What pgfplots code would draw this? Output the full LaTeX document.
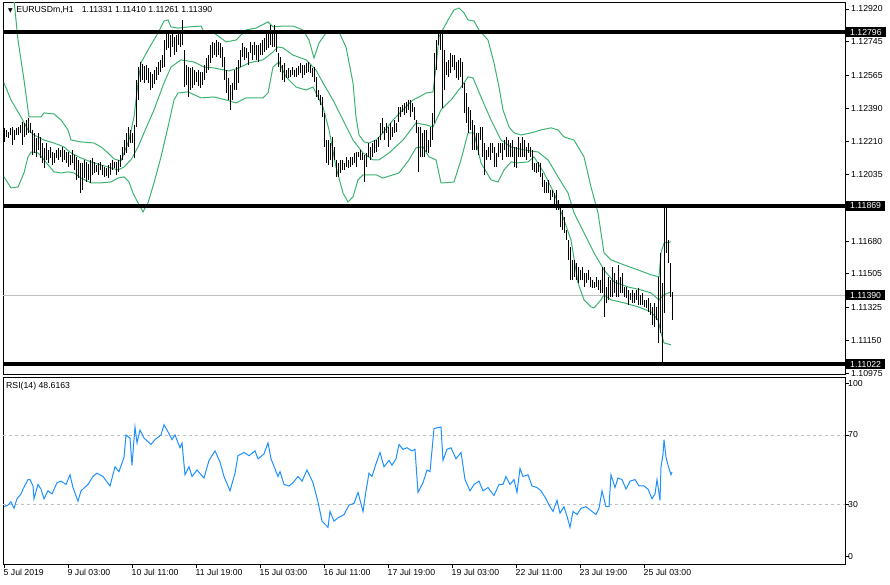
\documentclass[border=0pt]{standalone}
\usepackage{pgfplots}
\pgfplotsset{compat=1.18}
\usepackage{pgfplotstable}
\usepackage{fontspec}
\setmainfont{Liberation Sans}
\newfontfamily\dejavu{DejaVu Sans}
\definecolor{bbgreen}{RGB}{60,179,113}
\definecolor{rsiblue}{RGB}{30,144,255}
\definecolor{silverc}{RGB}{192,192,192}
\newcommand{\lab}{\fontsize{8.7}{10}\selectfont}

\pgfplotstableread{
i hi lo
0 1.12285 1.12210
1 1.12274 1.12236
2 1.12263 1.12231
3 1.12285 1.12247
4 1.12290 1.12194
5 1.12274 1.12220
6 1.12285 1.12247
7 1.12290 1.12247
8 1.12301 1.12258
9 1.12317 1.12194
10 1.12311 1.12236
11 1.12327 1.12247
12 1.12338 1.12258
13 1.12311 1.12258
14 1.12274 1.12140
15 1.12258 1.12151
16 1.12231 1.12130
17 1.12258 1.12167
18 1.12236 1.12124
19 1.12204 1.12098
20 1.12178 1.12071
21 1.12204 1.12114
22 1.12167 1.12098
23 1.12183 1.12124
24 1.12156 1.12087
25 1.12151 1.12098
26 1.12167 1.12124
27 1.12178 1.12114
28 1.12167 1.12130
29 1.12183 1.12103
30 1.12167 1.12114
31 1.12156 1.12098
32 1.12156 1.12076
33 1.12140 1.12087
34 1.12167 1.12098
35 1.12140 1.12060
36 1.12130 1.12007
37 1.12114 1.12017
38 1.12098 1.11937
39 1.12098 1.11953
40 1.12114 1.12017
41 1.12103 1.11996
42 1.12092 1.12007
43 1.12114 1.11991
44 1.12124 1.12034
45 1.12103 1.12044
46 1.12087 1.12050
47 1.12098 1.12034
48 1.12103 1.12060
49 1.12087 1.12034
50 1.12076 1.12023
51 1.12071 1.12028
52 1.12087 1.12017
53 1.12098 1.12034
54 1.12114 1.12060
55 1.12103 1.12071
56 1.12103 1.12034
57 1.12114 1.12050
58 1.12140 1.12076
59 1.12183 1.12114
60 1.12220 1.12140
61 1.12258 1.12151
62 1.12290 1.12183
63 1.12274 1.12204
64 1.12258 1.12204
65 1.12301 1.12124
66 1.12541 1.12290
67 1.12610 1.12434
68 1.12637 1.12530
69 1.12626 1.12541
70 1.12616 1.12525
71 1.12621 1.12541
72 1.12605 1.12525
73 1.12584 1.12487
74 1.12573 1.12498
75 1.12594 1.12519
76 1.12610 1.12541
77 1.12637 1.12568
78 1.12648 1.12584
79 1.12674 1.12605
80 1.12754 1.12610
81 1.12797 1.12701
82 1.12792 1.12712
83 1.12781 1.12664
84 1.12792 1.12717
85 1.12770 1.12674
86 1.12781 1.12690
87 1.12797 1.12728
88 1.12808 1.12717
89 1.12861 1.12728
90 1.12701 1.12503
91 1.12621 1.12514
92 1.12610 1.12450
93 1.12605 1.12487
94 1.12610 1.12498
95 1.12594 1.12514
96 1.12584 1.12530
97 1.12594 1.12509
98 1.12584 1.12498
99 1.12584 1.12514
100 1.12621 1.12541
101 1.12658 1.12578
102 1.12674 1.12594
103 1.12728 1.12632
104 1.12744 1.12658
105 1.12738 1.12674
106 1.12754 1.12664
107 1.12744 1.12674
108 1.12738 1.12658
109 1.12717 1.12610
110 1.12664 1.12541
111 1.12594 1.12471
112 1.12552 1.12434
113 1.12514 1.12381
114 1.12525 1.12434
115 1.12594 1.12487
116 1.12610 1.12487
117 1.12648 1.12525
118 1.12701 1.12610
119 1.12738 1.12664
120 1.12717 1.12648
121 1.12712 1.12658
122 1.12690 1.12621
123 1.12744 1.12685
124 1.12728 1.12648
125 1.12744 1.12674
126 1.12728 1.12648
127 1.12728 1.12637
128 1.12738 1.12674
129 1.12754 1.12674
130 1.12765 1.12690
131 1.12792 1.12701
132 1.12797 1.12712
133 1.12835 1.12728
134 1.12808 1.12717
135 1.12835 1.12717
136 1.12792 1.12690
137 1.12685 1.12610
138 1.12664 1.12584
139 1.12621 1.12541
140 1.12632 1.12530
141 1.12594 1.12552
142 1.12605 1.12552
143 1.12594 1.12557
144 1.12610 1.12568
145 1.12594 1.12557
146 1.12605 1.12557
147 1.12616 1.12568
148 1.12632 1.12578
149 1.12621 1.12552
150 1.12621 1.12568
151 1.12632 1.12578
152 1.12637 1.12584
153 1.12621 1.12578
154 1.12605 1.12557
155 1.12610 1.12530
156 1.12557 1.12450
157 1.12487 1.12434
158 1.12461 1.12407
159 1.12450 1.12343
160 1.12365 1.12183
161 1.12220 1.12098
162 1.12220 1.12087
163 1.12204 1.12114
164 1.12236 1.12076
165 1.12183 1.12114
166 1.12114 1.12023
167 1.12098 1.12023
168 1.12114 1.12044
169 1.12114 1.12060
170 1.12098 1.12060
171 1.12130 1.12076
172 1.12114 1.12071
173 1.12130 1.12076
174 1.12130 1.12087
175 1.12151 1.12098
176 1.12156 1.12076
177 1.12156 1.12130
178 1.12167 1.12114
179 1.12151 1.12114
180 1.12140 1.11996
181 1.12151 1.12076
182 1.12204 1.12130
183 1.12183 1.12114
184 1.12204 1.12130
185 1.12220 1.12151
186 1.12220 1.12156
187 1.12236 1.12183
188 1.12311 1.12220
189 1.12338 1.12258
190 1.12290 1.12220
191 1.12311 1.12258
192 1.12290 1.12183
193 1.12311 1.12220
194 1.12290 1.12236
195 1.12327 1.12258
196 1.12311 1.12263
197 1.12397 1.12317
198 1.12397 1.12343
199 1.12407 1.12370
200 1.12418 1.12354
201 1.12423 1.12365
202 1.12434 1.12381
203 1.12434 1.12343
204 1.12418 1.12370
205 1.12397 1.12327
206 1.12327 1.12258
207 1.12290 1.12050
208 1.12290 1.12130
209 1.12258 1.12130
210 1.12274 1.12130
211 1.12274 1.12156
212 1.12220 1.12151
213 1.12290 1.12183
214 1.12365 1.12220
215 1.12685 1.12311
216 1.12754 1.12594
217 1.12797 1.12728
218 1.12792 1.12701
219 1.12792 1.12391
220 1.12701 1.12487
221 1.12637 1.12568
222 1.12648 1.12557
223 1.12685 1.12578
224 1.12674 1.12610
225 1.12674 1.12594
226 1.12637 1.12552
227 1.12648 1.12541
228 1.12658 1.12557
229 1.12637 1.12498
230 1.12525 1.12365
231 1.12471 1.12311
232 1.12397 1.12258
233 1.12381 1.12274
234 1.12327 1.12167
235 1.12301 1.12167
236 1.12258 1.12167
237 1.12258 1.12140
238 1.12290 1.12220
239 1.12290 1.12130
240 1.12204 1.12034
241 1.12167 1.12114
242 1.12183 1.12130
243 1.12204 1.12114
244 1.12204 1.12151
245 1.12183 1.12076
246 1.12151 1.12076
247 1.12204 1.12130
248 1.12204 1.12151
249 1.12204 1.12114
250 1.12220 1.12167
251 1.12236 1.12130
252 1.12220 1.12130
253 1.12204 1.12130
254 1.12220 1.12130
255 1.12183 1.12076
256 1.12183 1.12071
257 1.12236 1.12130
258 1.12204 1.12130
259 1.12236 1.12130
260 1.12220 1.12130
261 1.12183 1.12114
262 1.12204 1.12151
263 1.12183 1.12130
264 1.12167 1.12060
265 1.12098 1.12050
266 1.12098 1.12044
267 1.12103 1.12050
268 1.12098 1.12023
269 1.12044 1.11969
270 1.12007 1.11937
271 1.11996 1.11937
272 1.12007 1.11937
273 1.11953 1.11900
274 1.11953 1.11916
275 1.11937 1.11873
276 1.11953 1.11847
277 1.11900 1.11847
278 1.11863 1.11756
279 1.11847 1.11740
280 1.11809 1.11724
281 1.11740 1.11686
282 1.11686 1.11580
283 1.11649 1.11473
284 1.11580 1.11473
285 1.11580 1.11489
286 1.11564 1.11473
287 1.11542 1.11457
288 1.11526 1.11473
289 1.11542 1.11473
290 1.11510 1.11435
291 1.11510 1.11457
292 1.11526 1.11473
293 1.11489 1.11435
294 1.11473 1.11430
295 1.11462 1.11430
296 1.11489 1.11435
297 1.11473 1.11419
298 1.11473 1.11403
299 1.11542 1.11403
300 1.11542 1.11275
301 1.11435 1.11350
302 1.11489 1.11366
303 1.11473 1.11382
304 1.11542 1.11382
305 1.11510 1.11403
306 1.11473 1.11382
307 1.11553 1.11382
308 1.11489 1.11403
309 1.11510 1.11403
310 1.11435 1.11382
311 1.11435 1.11377
312 1.11419 1.11339
313 1.11403 1.11366
314 1.11419 1.11350
315 1.11403 1.11350
316 1.11419 1.11366
317 1.11430 1.11339
318 1.11393 1.11339
319 1.11403 1.11339
320 1.11366 1.11329
321 1.11366 1.11323
322 1.11377 1.11302
323 1.11350 1.11286
324 1.11329 1.11232
325 1.11350 1.11222
326 1.11329 1.11259
327 1.11489 1.11136
328 1.11617 1.11190
329 1.11457 1.11022
330 1.11869 1.11297
331 1.11863 1.11617
332 1.11686 1.11564
333 1.11564 1.11382
334 1.11410 1.11261
}\bars

\begin{document}
\begin{tikzpicture}
\useasboundingbox (0,0) rectangle (890pt,584pt);
% ---------------- price panel ----------------
\begin{axis}[
  at={(3pt,581pt)}, anchor=north west,
  scale only axis, width=842pt, height=371pt,
  xmin=-0.5, xmax=420.5, ymin=1.10970, ymax=1.12952,
  clip mode=individual,
  axis line style={black, line width=1pt},
  xtick=\empty, scaled y ticks=false,
  ytick={1.12920,1.12745,1.12565,1.12390,1.12210,1.12035,1.11680,1.11505,1.11325,1.11150,1.10975},
  yticklabels={1.12920,1.12745,1.12565,1.12390,1.12210,1.12035,1.11680,1.11505,1.11325,1.11150,1.10975},
  ytick pos=right, tick align=outside, major tick length=4pt,
  tick style={black, line width=0.8pt},
  yticklabel style={font=\lab, anchor=west, inner sep=0pt, xshift=2pt},
]
% current price line
\addplot[silverc, line width=1pt] coordinates {(-0.5,1.11390) (420.5,1.11390)};
% bollinger bands
\addplot[bbgreen, line width=1pt] coordinates {
(0,1.13150) (5,1.12968) (7,1.12754) (10,1.12541) (12.5,1.12343) (18.5,1.12343) (20,1.12365) (25,1.12359) (28.5,1.12327) (32,1.12274) (33.5,1.12220) (38.5,1.12210) (45,1.12204) (48.5,1.12183) (52,1.12151) (55,1.12119) (58.5,1.12108) (60,1.12151) (62.5,1.12220) (65,1.12343) (67,1.12525) (68.5,1.12632) (72,1.12701) (77,1.12792) (80,1.12856) (82,1.12861) (83.5,1.12824) (87,1.12818) (92,1.12824) (98.5,1.12829) (100,1.12797) (105,1.12792) (111,1.12744) (116,1.12754) (121,1.12808) (126,1.12818) (132,1.12851) (134.5,1.12824) (139.5,1.12829) (144.5,1.12829) (149.5,1.12808) (152.5,1.12754) (155,1.12658) (157.5,1.12738) (161,1.12792) (167.5,1.12797) (171,1.12717) (174.5,1.12525) (176,1.12343) (177.5,1.12247) (180,1.12210) (182.5,1.12204) (186,1.12220) (189.5,1.12258) (194.5,1.12327) (199.5,1.12381) (204.5,1.12434) (207.5,1.12450) (211,1.12471) (214.5,1.12477) (216,1.12610) (217.5,1.12770) (218.5,1.12792) (222,1.12861) (225,1.12915) (227.5,1.12925) (230,1.12899) (232,1.12861) (235,1.12856) (237.5,1.12808) (242,1.12754) (245,1.12632) (247.5,1.12503) (249.5,1.12381) (252.5,1.12290) (255,1.12258) (258.5,1.12247) (263.5,1.12258) (268.5,1.12274) (273.5,1.12285) (277,1.12274) (280,1.12236) (285,1.12220) (290,1.12130) (293.5,1.11969) (297,1.11831) (300,1.11617) (303.5,1.11580) (310,1.11553) (317,1.11526) (323.5,1.11500) (327.5,1.11489) (328.5,1.11617) (330,1.11670) (333.5,1.11676)};
\addplot[bbgreen, line width=1pt] coordinates {
(0,1.12525) (3.5,1.12434) (8.5,1.12343) (12,1.12274) (15,1.12247) (20,1.12220) (25,1.12204) (30,1.12183) (33.5,1.12151) (38.5,1.12124) (43.5,1.12103) (48.5,1.12087) (53.5,1.12071) (57,1.12060) (60,1.12076) (63.5,1.12114) (67,1.12183) (70,1.12258) (75,1.12381) (80,1.12525) (83.5,1.12610) (88.5,1.12648) (95,1.12637) (100,1.12610) (105,1.12605) (112.5,1.12589) (117.5,1.12605) (122.5,1.12632) (129.5,1.12648) (134.5,1.12690) (137,1.12717) (139.5,1.12712) (144.5,1.12674) (151,1.12648) (156,1.12594) (159.5,1.12525) (164.5,1.12434) (169.5,1.12327) (174.5,1.12220) (179.5,1.12151) (184.5,1.12114) (187.5,1.12114) (192.5,1.12151) (199.5,1.12220) (206,1.12311) (211,1.12301) (214.5,1.12290) (218.5,1.12381) (223.5,1.12434) (228.5,1.12503) (232,1.12557) (234.5,1.12552) (238.5,1.12450) (243.5,1.12327) (248.5,1.12220) (253.5,1.12183) (260,1.12167) (267,1.12156) (272,1.12114) (277,1.12023) (282,1.11937) (285,1.11831) (290,1.11724) (295,1.11617) (300,1.11526) (305,1.11462) (312,1.11435) (318.5,1.11419) (323.5,1.11403) (327.5,1.11366) (330,1.11393) (333.5,1.11409)};
\addplot[bbgreen, line width=1pt] coordinates {
(0,1.12023) (3.5,1.11964) (7,1.11969) (10,1.12044) (12,1.12130) (13.5,1.12156) (17,1.12151) (20,1.12114) (25,1.12050) (28.5,1.12044) (32,1.12050) (35,1.12044) (38.5,1.12017) (43.5,1.11991) (48.5,1.11991) (53.5,1.11996) (57,1.12017) (60,1.12023) (62.5,1.11996) (64.5,1.11937) (67,1.11884) (69.5,1.11836) (72,1.11884) (75,1.11991) (78.5,1.12130) (82,1.12290) (85,1.12434) (87,1.12471) (92,1.12477) (98.5,1.12445) (105,1.12450) (111,1.12434) (116,1.12418) (121,1.12445) (129.5,1.12445) (132,1.12471) (134.5,1.12610) (137.5,1.12637) (141,1.12557) (146,1.12503) (151,1.12487) (154.5,1.12503) (159.5,1.12397) (162.5,1.12274) (166,1.12076) (169.5,1.11937) (172,1.11889) (174.5,1.11916) (177,1.12007) (179.5,1.12034) (186,1.12034) (189.5,1.12017) (194.5,1.12034) (197.5,1.12044) (202.5,1.12114) (206,1.12178) (209.5,1.12183) (212.5,1.12130) (216,1.12114) (218.5,1.11991) (220,1.11991) (225,1.11996) (228.5,1.12114) (232,1.12258) (235,1.12258) (238.5,1.12098) (243.5,1.12007) (247,1.11996) (250,1.12060) (253.5,1.12103) (257,1.12098) (262,1.12103) (265,1.12130) (270,1.12044) (275,1.11937) (280,1.11793) (283.5,1.11686) (287,1.11457) (290,1.11366) (293.5,1.11329) (295,1.11323) (298.5,1.11366) (300,1.11393) (303.5,1.11366) (310,1.11350) (317,1.11329) (323.5,1.11302) (327,1.11259) (328.5,1.11190) (330,1.11136) (333.5,1.11126)};
% price bars (high-low)
\addplot[draw=none, mark=none, forget plot,
  error bars/.cd, y dir=plus, y explicit, error mark=none,
  error bar style={draw=black, line width=0.85pt}]
  table[x=i, y=lo, y error expr=\thisrow{hi}-\thisrow{lo}] {\bars};
% horizontal levels
\addplot[black, line width=4.3pt] coordinates {(-0.5,1.12796) (420.5,1.12796)};
\addplot[black, line width=4.3pt] coordinates {(-0.5,1.11869) (420.5,1.11869)};
\addplot[black, line width=4.3pt] coordinates {(-0.5,1.11022) (420.5,1.11022)};
% price tags
\foreach \p in {1.12796,1.11869,1.11390,1.11022}{
  \edef\tmp{\noexpand\node[fill=black, text=white, anchor=west, inner xsep=4pt, inner ysep=2pt, font=\noexpand\lab] at (axis cs:421,\p) {\p};}
  \tmp
}
% title
\node[anchor=west, inner sep=0pt, font=\lab] at (axis cs:2,1.12915)
  {{\dejavu\fontsize{6}{6}\selectfont ▼}\hspace{3.5pt}EURUSDm,H1\hspace{8pt}1.11331 1.11410 1.11261 1.11390};
\end{axis}
% ---------------- RSI panel ----------------
\begin{axis}[
  at={(3pt,207pt)}, anchor=north west,
  scale only axis, width=842pt, height=187pt,
  xmin=-0.5, xmax=420.5, ymin=-4.6, ymax=103.5,
  clip mode=individual,
  axis line style={black, line width=1pt},
  xtick={0,32,64,96,128,160,192,224,256,288,320},
  xticklabels={5 Jul 2019,9 Jul 03:00,10 Jul 11:00,11 Jul 19:00,15 Jul 03:00,16 Jul 11:00,17 Jul 19:00,19 Jul 03:00,22 Jul 11:00,23 Jul 19:00,25 Jul 03:00},
  xtick pos=bottom,
  ytick={0,30,70,100}, yticklabels={0,30,70,100},
  ytick pos=right, tick align=outside, major tick length=4pt,
  tick style={black, line width=0.8pt},
  yticklabel style={font=\lab, anchor=west, inner sep=0pt, xshift=-1pt},
  xticklabel style={font=\lab, anchor=north west, inner sep=0pt, xshift=-0.5pt, yshift=-1pt},
]
\addplot[silverc, line width=0.8pt, dash pattern=on 3pt off 3pt] coordinates {(-0.5,70) (420.5,70)};
\addplot[silverc, line width=0.8pt, dash pattern=on 3pt off 3pt] coordinates {(-0.5,30) (420.5,30)};
\addplot[rsiblue, line width=1pt] coordinates {
(0,28.5) (2,29.5) (3.5,31.3) (5,27.6) (6.5,33.1) (8.5,35.9) (9.5,38.7) (12,44.2) (13,44.2) (14.5,40.5) (15,33.1) (17,41.4) (18.5,38.7) (20,33.1) (22,37.7) (24,35.9) (26.5,42.4) (28.5,43.3) (31,41.4) (33,47) (34.5,39.6) (37,31.7) (38.5,37.7) (42,41.4) (44.5,46) (46.5,47.9) (49.5,46) (53,40.5) (55.5,51.6) (57.5,48.8) (60,57.1) (61,70) (63,68.2) (64,52.5) (65.5,74.6) (66.5,65.4) (68,72.8) (70,68.2) (73.5,64.5) (75.5,67.3) (78.5,70) (80,75.9) (82,71.8) (84,67.3) (85.5,70) (88,62.6) (89,65.4) (90.5,47) (92.5,51.6) (94,46) (96.5,49.7) (100,45.1) (102.5,55.3) (105.5,60.8) (108,54.4) (110,46) (113,37.7) (115.5,47.9) (117,58) (120,59.9) (122.5,58) (125.5,60.8) (127,56.2) (130,59) (132,65.4) (133.5,56.2) (137,46) (138,48.8) (140,41.4) (142.5,40.5) (144.5,42.4) (147,46) (149,43.3) (151.5,49.7) (154.5,42.4) (157,31.3) (159,20.2) (162,16.6) (163,25.8) (165,20.2) (167,22.1) (170,23.9) (172.5,29.5) (175,30.4) (177,36.8) (179.5,25.8) (181,37.7) (182.5,47.9) (184,46) (186,53.4) (188,59.9) (190,51.6) (192.5,55.3) (194,52.5) (196,56.2) (197.5,64.5) (199.5,61.7) (201.5,62.6) (204,60.8) (205.5,61.7) (207,36.8) (209.5,42.4) (211.5,49.7) (213,48.8) (215,73.7) (218.5,74.6) (219.5,55.3) (221.5,61.7) (223.5,62.6) (226,56.2) (228.5,59.9) (230.5,44.2) (233,37.7) (235,41.4) (237.5,43.3) (239.5,37.7) (242,39.6) (245,35) (247.5,41.4) (249.5,41.4) (251,46) (253,41.4) (255,44.2) (256.5,36.8) (258,50.6) (259.5,46) (262,47) (264,40.5) (266.5,39.6) (268.5,37.7) (271,33.1) (273,28.5) (274.5,25.8) (276.5,32.2) (278,24.8) (280,28.5) (281.5,23) (283,16.6) (284.5,25.8) (286.5,24) (288.5,27.6) (291,28.5) (293,26.7) (296,24) (297.5,27.6) (299,37.7) (301,28.5) (302.5,28.5) (303.5,47) (305.5,39.6) (307,45.1) (309,44.2) (311,38.7) (313,43.3) (315.5,44.2) (317.5,40.5) (320,40.5) (322,38.7) (324,33.1) (325.5,35.9) (326.5,44.2) (328,32.2) (328.5,51.6) (329.5,58.9) (330,67.2) (331,57.1) (332,52.5) (333.5,47) (334,48.6)};
\node[anchor=west, inner sep=0pt, font=\lab] at (axis cs:1,98) {RSI(14) 48.6163};
\end{axis}
\end{tikzpicture}
\end{document}
